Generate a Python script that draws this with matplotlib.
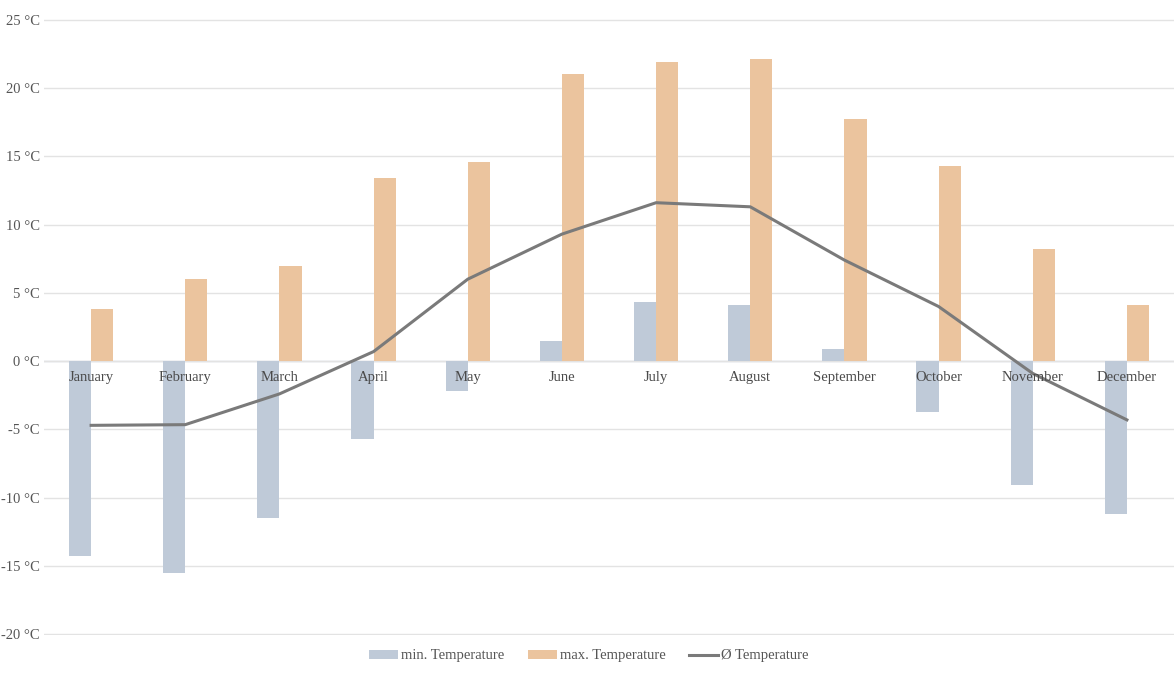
import matplotlib
matplotlib.use("Agg")
import matplotlib.pyplot as plt
import numpy as np

months = ["January", "February", "March", "April", "May", "June", "July",
          "August", "September", "October", "November", "December"]
min_temp = [-14.3, -15.5, -11.5, -5.7, -2.2, 1.5, 4.3, 4.1, 0.9, -3.7, -9.1, -11.2]
max_temp = [3.8, 6.0, 7.0, 13.4, 14.6, 21.0, 21.9, 22.1, 17.7, 14.3, 8.2, 4.1]
avg_temp = [-4.7, -4.65, -2.4, 0.7, 6.0, 9.3, 11.6, 11.3, 7.4, 4.0, -0.9, -4.3]
y_ticks = [-20, -15, -10, -5, 0, 5, 10, 15, 20, 25]

plt.rcParams['font.family'] = ['Liberation Serif', 'DejaVu Serif']

fig = plt.figure(figsize=(11.74, 6.75), dpi=100)
ax = fig.add_axes([44/1174, 1-635/675, 1130/1174, (635-19)/675])

x = np.arange(len(months))
w = 0.235
b1 = ax.bar(x - w/2, min_temp, w, color="#bfcad8", label="min. Temperature", zorder=2)
b2 = ax.bar(x + w/2, max_temp, w, color="#ebc49e", label="max. Temperature", zorder=2)
l1, = ax.plot(x, avg_temp, color="#7a7a7a", lw=2.2, label="Ø Temperature", zorder=3)

ax.set_xlim(-0.5, len(months) - 0.5)
ax.set_ylim(-20.05, 25.05)
ax.set_yticks(y_ticks)
ax.set_yticklabels([f"{t} °C" for t in y_ticks], color="#555555", fontsize=10.5)
ax.tick_params(axis='y', length=0, pad=3)
ax.set_xticks([])
for s in ax.spines.values():
    s.set_visible(False)
ax.grid(axis='y', color="#e3e3e3", lw=1, zorder=0)
ax.axhline(0, color="#c8d0dc", lw=1, zorder=1)

for i, m in enumerate(months):
    ax.annotate(m, (i, 0), xytext=(0, -12), textcoords="offset points",
                ha="center", va="center", fontsize=10.5, color="#4a4a4a", zorder=4)

leg = fig.legend([b1, b2, l1], ["min. Temperature", "max. Temperature", "Ø Temperature"],
                 loc="center", bbox_to_anchor=(589/1174, 1-656/675), ncol=3,
                 frameon=False, fontsize=10.5, handlelength=2.0, handleheight=0.6,
                 columnspacing=1.6, handletextpad=0.2)
for t in leg.get_texts():
    t.set_color("#555555")

fig.savefig("out.png", dpi=100)
